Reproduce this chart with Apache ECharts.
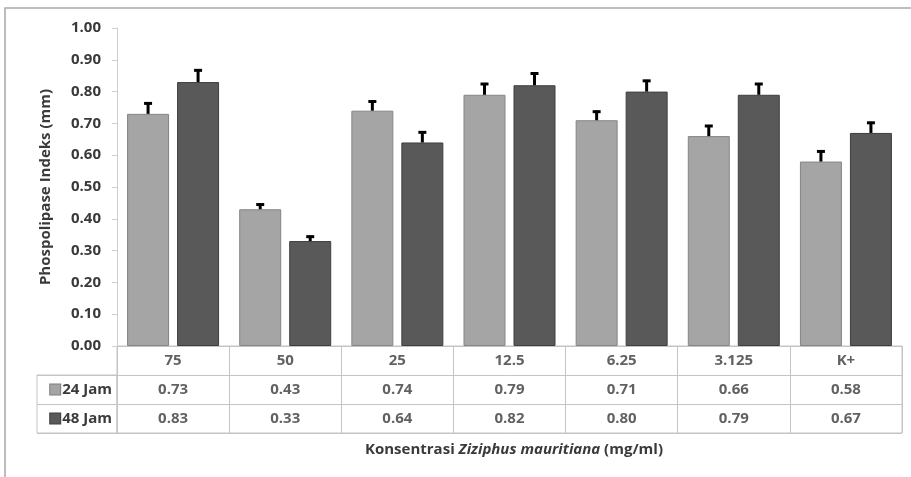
<!DOCTYPE html>
<html>
<head>
<meta charset="utf-8">
<script src="https://cdn.jsdelivr.net/npm/echarts@6/dist/echarts.min.js"></script>
<style>
  html, body { margin: 0; padding: 0; background: #fff; }
  #container { width: 911px; height: 477px; }
</style>
</head>
<body>
<div id="container"></div>
<script>
// Data
const categories = ['75', '50', '25', '12.5', '6.25', '3.125', 'K+'];
const seriesNames = ['24 Jam', '48 Jam'];
const jam24 = [0.73, 0.43, 0.74, 0.79, 0.71, 0.66, 0.58];
const jam48 = [0.83, 0.33, 0.64, 0.82, 0.80, 0.79, 0.67];
const err24 = [0.036, 0.018, 0.032, 0.037, 0.030, 0.035, 0.035];
const err48 = [0.040, 0.017, 0.035, 0.040, 0.037, 0.037, 0.035];
const yTicks = { min: 0, max: 1, interval: 0.1 };

const lightColor = '#a5a5a5';
const darkColor = '#595959';
const textColor = '#3a3a3a';
const lineColor = '#c4c4c4';
const font = '"Open Sans", sans-serif';

const barWidth = 42;
const barGapPx = 8;

const container = document.getElementById('container');
const chart = echarts.init(container);

// error bar drawn above the centre of a grouped bar
function errorBar(offsetSign) {
  return function (params, api) {
    const idx = api.value(0);
    const val = api.value(1);
    const err = api.value(2);
    const base = api.coord([idx, val]);
    const top = api.coord([idx, val + err]);
    const x = base[0] + offsetSign * (barWidth + barGapPx) / 2;
    const style = { stroke: '#000', lineWidth: 3 };
    return {
      type: 'group',
      children: [
        { type: 'line', shape: { x1: x, y1: base[1], x2: x, y2: top[1] }, style: style },
        { type: 'line', shape: { x1: x - 4, y1: top[1] + 1, x2: x + 4, y2: top[1] + 1 }, style: style }
      ]
    };
  };
}

// table cell texts: [column, row, text]
const tableCells = [];
categories.forEach((c, i) => {
  tableCells.push([i, 0, c]);
  tableCells.push([i, 1, jam24[i].toFixed(2)]);
  tableCells.push([i, 2, jam48[i].toFixed(2)]);
});

const boldText = { fontFamily: font, fontWeight: 'bold', fontSize: 15, color: textColor };

const option = {
  animation: false,
  textStyle: { fontFamily: font },
  graphic: [{
    type: 'rect',
    shape: { x: 5, y: 8, width: 1200, height: 1000 },
    style: { fill: 'none', stroke: '#a8a8a8', lineWidth: 1.5 },
    silent: true
  }],
  title: {
    text: '{a|Konsentrasi }{b|Ziziphus mauritiana}{a| (mg/ml)}',
    left: 509,
    top: 437,
    textAlign: 'center',
    textStyle: {
      rich: {
        a: boldText,
        b: Object.assign({}, boldText, { fontStyle: 'italic' })
      }
    }
  },
  grid: [
    { left: 117, right: 9, top: 28, bottom: 131 },
    { left: 117, right: 9, top: 346, height: 87, show: true, borderColor: lineColor, borderWidth: 1 },
    { left: 37, width: 80, top: 375, height: 58, show: true, borderColor: lineColor, borderWidth: 1 }
  ],
  xAxis: [
    {
      type: 'category', gridIndex: 0, data: categories,
      axisLine: { show: false }, axisTick: { show: false }, axisLabel: { show: false }
    },
    {
      type: 'category', gridIndex: 1, data: categories,
      axisLine: { show: false }, axisTick: { show: false }, axisLabel: { show: false },
      splitLine: { show: true, interval: 0, lineStyle: { color: lineColor } }
    },
    {
      type: 'value', gridIndex: 2, show: false
    }
  ],
  yAxis: [
    {
      type: 'value', gridIndex: 0,
      min: yTicks.min, max: yTicks.max, interval: yTicks.interval,
      name: 'Phospolipase Indeks (mm)',
      nameLocation: 'middle',
      nameGap: 64,
      nameTextStyle: boldText,
      axisLine: { show: true, lineStyle: { color: '#cfcfcf' } },
      axisTick: { show: true, length: 5, lineStyle: { color: '#cfcfcf' } },
      splitLine: { show: false },
      axisLabel: Object.assign({ formatter: v => v.toFixed(2), margin: 16 }, boldText)
    },
    {
      type: 'category', gridIndex: 1, inverse: true,
      data: ['', seriesNames[0], seriesNames[1]],
      axisLine: { show: false }, axisTick: { show: false },
      splitLine: { show: true, interval: 0, lineStyle: { color: lineColor } },
      axisLabel: {
        margin: 5,
        formatter: (v, i) => i === 1 ? '{s1|}{t|' + v + '}' : (i === 2 ? '{s2|}{t|' + v + '}' : ''),
        rich: {
          s1: { width: 10, height: 10, backgroundColor: lightColor, borderColor: '#7f7f7f', borderWidth: 1 },
          s2: { width: 10, height: 10, backgroundColor: darkColor, borderColor: '#404040', borderWidth: 1 },
          t: Object.assign({ padding: [0, 0, 0, 2] }, boldText)
        }
      }
    },
    {
      type: 'category', gridIndex: 2, data: seriesNames,
      axisLine: { show: false }, axisTick: { show: false }, axisLabel: { show: false },
      splitLine: { show: true, interval: 0, lineStyle: { color: lineColor } }
    }
  ],
  series: [
    {
      name: seriesNames[0], type: 'bar', xAxisIndex: 0, yAxisIndex: 0,
      data: jam24, barWidth: barWidth, barGap: (barGapPx / barWidth * 100) + '%',
      itemStyle: { color: lightColor, borderColor: '#858585', borderWidth: 1 }
    },
    {
      name: seriesNames[1], type: 'bar', xAxisIndex: 0, yAxisIndex: 0,
      data: jam48, barWidth: barWidth,
      itemStyle: { color: darkColor, borderColor: '#3f3f3f', borderWidth: 1 }
    },
    {
      type: 'custom', xAxisIndex: 0, yAxisIndex: 0, z: 5,
      renderItem: errorBar(-1),
      data: jam24.map((v, i) => [i, v, err24[i]])
    },
    {
      type: 'custom', xAxisIndex: 0, yAxisIndex: 0, z: 5,
      renderItem: errorBar(1),
      data: jam48.map((v, i) => [i, v, err48[i]])
    },
    {
      type: 'scatter', xAxisIndex: 1, yAxisIndex: 1,
      symbolSize: 0, silent: true,
      data: tableCells.map(c => ({ value: [c[0], c[1]], text: c[2] })),
      label: Object.assign({
        show: true, position: 'inside',
        formatter: p => p.data.text
      }, boldText)
    }
  ]
};

chart.setOption(option);
</script>
</body>
</html>
